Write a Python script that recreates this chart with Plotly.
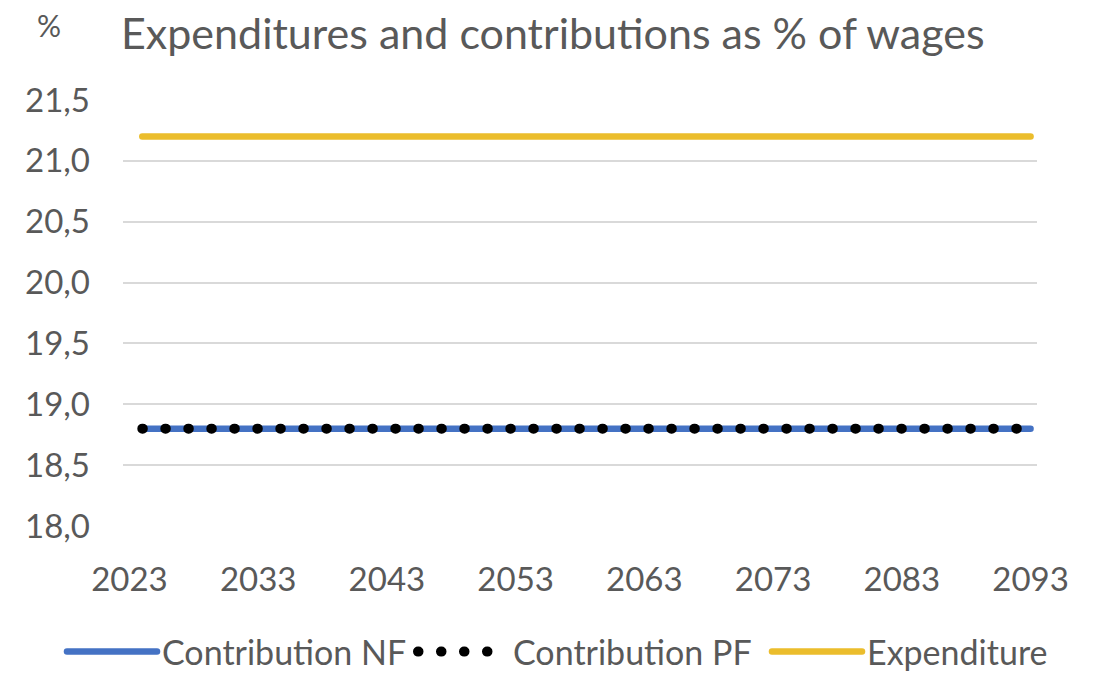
import plotly.graph_objects as go

# Yearly series, 2024-2093 (axis categories start at 2023)
years = list(range(2024, 2094))
contribution_nf = [18.8] * len(years)
contribution_pf = [18.8] * len(years)
expenditure = [21.2] * len(years)

x_ticks = list(range(2023, 2094, 10))
y_ticks = [18.0, 18.5, 19.0, 19.5, 20.0, 20.5, 21.0, 21.5]

TEXT = "#595959"
FONT = "Lato, 'Open Sans', sans-serif"
W, H = 1096, 673

fig = go.Figure()
fig.add_trace(go.Scatter(
    x=years, y=contribution_nf, name="Contribution NF", mode="lines",
    line=dict(color="#4472C4", width=6.5), legend="legend",
))
fig.add_trace(go.Scatter(
    x=years, y=contribution_pf, name="Contribution PF", mode="lines",
    line=dict(color="#000000", width=10, dash="0.5px,22.5px"), legend="legend2",
))
fig.add_trace(go.Scatter(
    x=years, y=expenditure, name="Expenditure", mode="lines",
    line=dict(color="#EBBD2C", width=6.5), legend="legend3",
))


def legend_box(left_px):
    # one legend entry, placed in figure pixels along the bottom row
    return dict(
        orientation="h", xref="container", yref="container",
        x=left_px / W, xanchor="left",
        y=1 - 652 / H, yanchor="middle",
        font=dict(family=FONT, size=34, color=TEXT),
        itemwidth=90, bgcolor="rgba(0,0,0,0)",
    )


fig.update_layout(
    width=W, height=H,
    paper_bgcolor="white", plot_bgcolor="white",
    margin=dict(l=123, r=59, t=100, b=147),
    separators=", ",
    font=dict(family=FONT, color=TEXT, size=33),
    title=dict(
        text="Expenditures and contributions as % of wages",
        x=121 / W, xref="container", xanchor="left",
        y=1 - 34 / H, yref="container", yanchor="middle",
        font=dict(family=FONT, size=43, color=TEXT),
    ),
    showlegend=True,
    legend=legend_box(62),
    legend2=legend_box(413),
    legend3=legend_box(767),
    annotations=[dict(
        text="%", xref="paper", yref="paper",
        x=(49 - 123) / 912, y=1 + (100 - 25) / 426,
        xanchor="center", yanchor="middle", showarrow=False,
        font=dict(family=FONT, size=30, color=TEXT),
    )],
)

fig.update_xaxes(
    range=[2022.5, 2093.5], tickmode="array", tickvals=x_ticks,
    ticktext=[str(v) for v in x_ticks],
    showgrid=False, zeroline=False, showline=False,
    ticks="", ticklabelstandoff=31, automargin=False,
)
fig.update_yaxes(
    range=[18.0, 21.5], tickmode="array", tickvals=y_ticks,
    tickformat=".1f",
    showgrid=True, gridcolor="#D9D9D9", gridwidth=1.5,
    zeroline=False, showline=False,
    ticks="", ticklabelstandoff=32, automargin=False,
)

# Rounded stroke ends: solid lines get round caps, the dashed one becomes dots
post = """
function roundCaps(){
  document.querySelectorAll('path.js-line').forEach(function(p){
    p.style.strokeLinecap = 'round';
  });
}
roundCaps();
var gd = document.getElementsByClassName('plotly-graph-div')[0];
if (gd && gd.on) { gd.on('plotly_afterplot', roundCaps); }
"""

fig.write_html("out.html", post_script=post)
